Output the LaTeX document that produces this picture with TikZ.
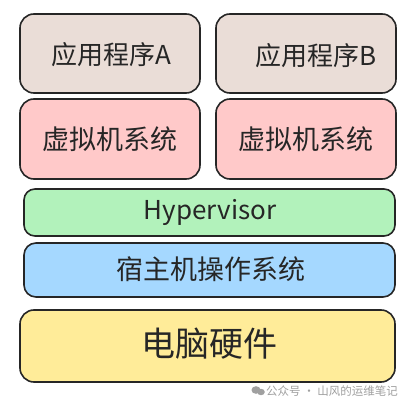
\documentclass[tikz,border=0pt]{standalone}
\usepackage{fontspec}
\setmainfont{Noto Sans CJK SC}
\newfontfamily\cjk{Noto Sans CJK SC}
\definecolor{appc}{HTML}{EADDD7}
\definecolor{vmc}{HTML}{FFC9C9}
\definecolor{hyc}{HTML}{B2F2BB}
\definecolor{osc}{HTML}{A5D8FF}
\definecolor{hwc}{HTML}{FFEC99}
\definecolor{wmc}{HTML}{A0A0A0}
\tikzset{
  layer/.style={draw=black!85, line width=1.6pt, rounded corners=14pt},
  lbl/.style={font=\cjk, text=black!85, inner sep=0pt}
}
\begin{document}
\begin{tikzpicture}[x=1pt,y=-1pt]
\fill[white] (0,0) rectangle (415,403);
\useasboundingbox (0,0) rectangle (415,403);
% boxes
\draw[layer, fill=appc] (20,14) rectangle (200,93);
\node[lbl, font=\cjk\fontsize{26}{28}\selectfont] (appA) at (111,55) {应用程序A};
\draw[layer, fill=appc] (216,14) rectangle (396,93);
\node[lbl, font=\cjk\fontsize{26}{28}\selectfont] (appB) at (316,56) {应用程序B};
\draw[layer, fill=vmc] (20,99) rectangle (200,179);
\node[lbl, font=\cjk\fontsize{27}{29}\selectfont] (vmA) at (110,139) {虚拟机系统};
\draw[layer, fill=vmc] (216,99) rectangle (396,179);
\node[lbl, font=\cjk\fontsize{27}{29}\selectfont] (vmB) at (306,139) {虚拟机系统};
\draw[layer, fill=hyc, rounded corners=11pt] (24,189) rectangle (395,236);
\node[lbl, font=\cjk\fontsize{26}{28}\selectfont] (hyp) at (210,212) {Hypervisor};
\draw[layer, fill=osc, rounded corners=12pt] (24,243) rectangle (395,297);
\node[lbl, font=\cjk\fontsize{27}{29}\selectfont] (os) at (211,269) {宿主机操作系统};
\draw[layer, fill=hwc] (20,310) rectangle (395,382);
\node[lbl, font=\cjk\fontsize{34}{36}\selectfont] (hw) at (209,344) {电脑硬件};
% watermark
\fill[wmc] (256,390) ellipse (4.5pt and 3.8pt);
\fill[wmc] (261,392) ellipse (3.8pt and 3.2pt);
\node[lbl, text=wmc, anchor=west, font=\cjk\fontsize{11.5}{13}\selectfont] (wm) at (266,391) {公众号 · 山风的运维笔记};
\end{tikzpicture}
\end{document}
